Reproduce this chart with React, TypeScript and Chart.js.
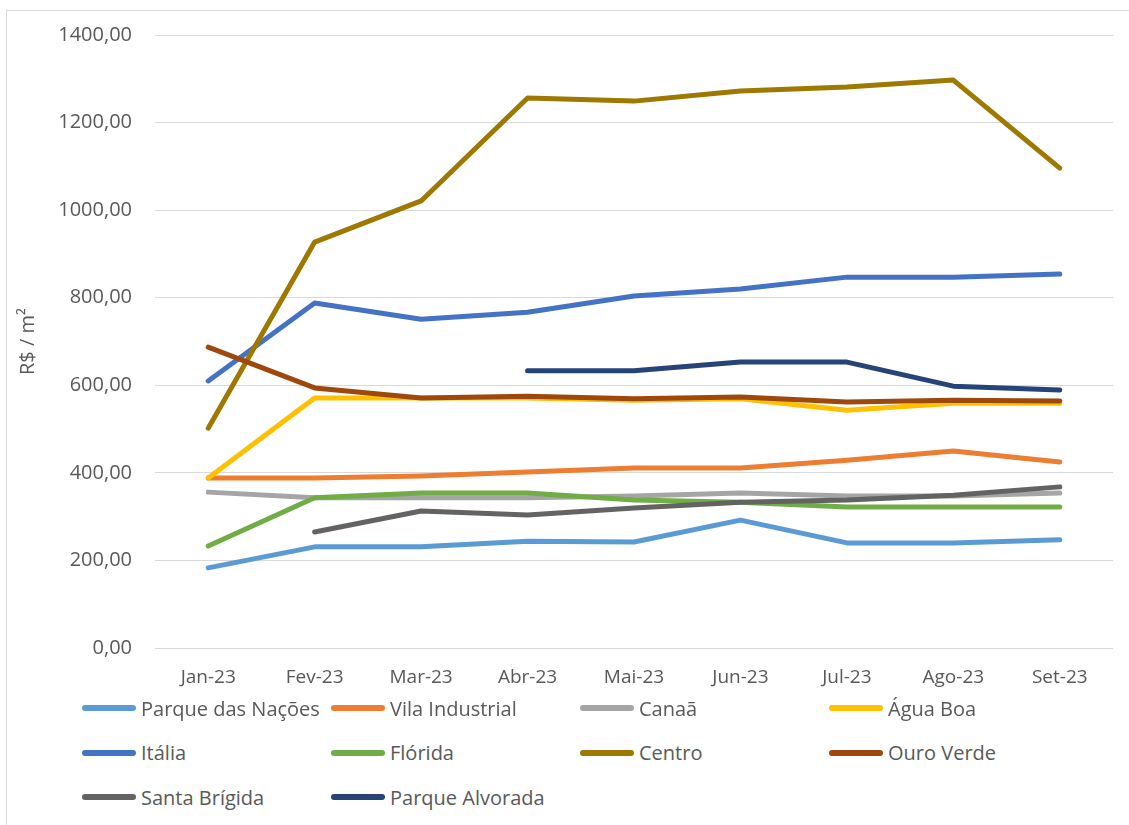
import React, { useEffect, useRef } from "react";
import { Chart, registerables } from "chart.js";

Chart.register(...registerables);

const months = ["Jan-23", "Fev-23", "Mar-23", "Abr-23", "Mai-23", "Jun-23", "Jul-23", "Ago-23", "Set-23"];

const parqueDasNacoes = [183, 231, 231, 244, 242, 292, 240, 240, 247];
const vilaIndustrial = [388, 388, 393, 402, 411, 411, 429, 450, 425];
const canaa = [356, 343, 343, 343, 347, 354, 347, 347, 354];
const aguaBoa = [388, 571, 571, 571, 566, 569, 543, 559, 559];
const italia = [610, 788, 751, 767, 804, 820, 847, 847, 854];
const florida = [233, 343, 354, 354, 338, 333, 322, 322, 322];
const centro = [502, 927, 1021, 1256, 1249, 1272, 1281, 1297, 1096];
const ouroVerde = [687, 594, 571, 575, 569, 573, 562, 566, 564];
const santaBrigida = [null, 265, 313, 304, 320, 333, 338, 349, 368];
const parqueAlvorada = [null, null, null, 633, 633, 653, 653, 598, 589];

const seriesNames = [
  "Parque das Nações", "Vila Industrial", "Canaã", "Água Boa", "Itália",
  "Flórida", "Centro", "Ouro Verde", "Santa Brígida", "Parque Alvorada",
];
const seriesData = [
  parqueDasNacoes, vilaIndustrial, canaa, aguaBoa, italia,
  florida, centro, ouroVerde, santaBrigida, parqueAlvorada,
];
const seriesColors = [
  "#5B9BD5", "#ED7D31", "#A5A5A5", "#FFC000", "#4472C4",
  "#70AD47", "#9E7800", "#9E480E", "#636363", "#264478",
];

const yTicks = [0, 200, 400, 600, 800, 1000, 1200, 1400];

const FONT = "'Open Sans', 'Noto Sans', sans-serif";

export default function App() {
  const ref = useRef<HTMLCanvasElement | null>(null);

  useEffect(() => {
    if (!ref.current) return;
    const n = seriesNames.length;
    const chart = new Chart(ref.current, {
      type: "line",
      data: {
        labels: months,
        datasets: seriesNames.map((name, i) => ({
          label: name,
          data: seriesData[i],
          borderColor: seriesColors[i],
          backgroundColor: seriesColors[i],
          borderWidth: 5,
          pointRadius: 0,
          borderCapStyle: "round",
          borderJoinStyle: "round",
          tension: 0,
          fill: false,
          order: n - i,
        })),
      },
      options: {
        animation: false,
        responsive: false,
        maintainAspectRatio: false,
        layout: { padding: { top: 35, right: 16, bottom: 0, left: 0 } },
        plugins: { legend: { display: false }, tooltip: { enabled: false } },
        scales: {
          x: {
            offset: true,
            grid: { display: false, drawTicks: false },
            border: { display: false },
            ticks: {
              color: "#595959",
              font: { family: FONT, size: 19 },
              padding: 18,
              maxRotation: 0,
              autoSkip: false,
            },
            afterFit: (s: any) => { s.height = 52; },
          },
          y: {
            min: 0,
            max: 1400,
            afterBuildTicks: (s: any) => { s.ticks = yTicks.map((v) => ({ value: v })); },
            grid: { color: "#D9D9D9", lineWidth: 1, drawTicks: false },
            border: { display: false },
            ticks: {
              color: "#595959",
              font: { family: FONT, size: 20 },
              padding: 23,
              callback: (v: any) => Number(v).toFixed(2).replace(".", ","),
            },
            title: {
              display: true,
              text: "R$ / m²",
              color: "#595959",
              font: { family: FONT, size: 20, weight: "normal" },
              padding: { top: 16, bottom: 0 },
            },
            afterFit: (s: any) => { s.width = 155; },
          },
        },
      },
    });
    return () => chart.destroy();
  }, []);

  const legendRows: number[][] = [[0, 1, 2, 3], [4, 5, 6, 7], [8, 9]];

  return (
    <div style={{ position: "absolute", left: 0, top: 0, width: 1129, height: 825, overflow: "hidden", background: "#fff" }}>
      <div style={{ position: "absolute", left: 6, top: 10, width: 1200, height: 900, border: "1.5px solid #D9D9D9", boxSizing: "border-box" }} />
      <canvas ref={ref} width={1129} height={700} style={{ position: "absolute", left: 0, top: 0, width: 1129, height: 700 }} />
      {legendRows.map((row, r) =>
        row.map((idx, c) => (
          <div
            key={idx}
            style={{
              position: "absolute",
              left: 82 + c * 249,
              top: 708 + r * 44.5 - 15,
              height: 30,
              display: "flex",
              alignItems: "center",
              fontFamily: FONT,
              fontSize: 20,
              color: "#595959",
              whiteSpace: "nowrap",
            }}
          >
            <span style={{ display: "inline-block", width: 54, height: 6, borderRadius: 3, background: seriesColors[idx], marginRight: 5 }} />
            <span>{seriesNames[idx]}</span>
          </div>
        ))
      )}
    </div>
  );
}
